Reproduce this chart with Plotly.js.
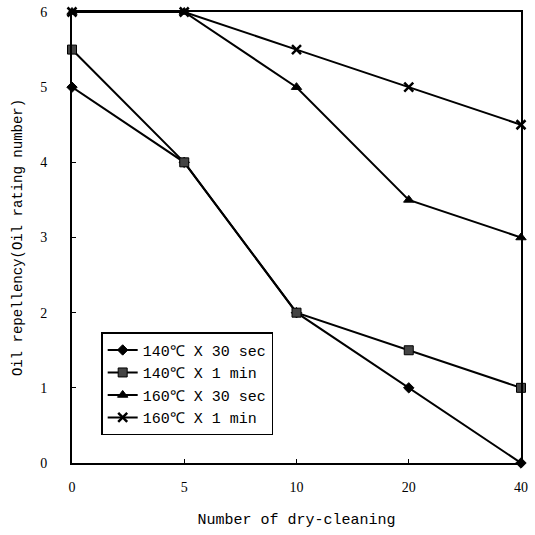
<!DOCTYPE html>
<html><head><meta charset="utf-8">
<script src="https://cdn.plot.ly/plotly-3.0.1.min.js"></script>
<style>body{margin:0;background:#fff}#c{width:535px;height:535px}</style>
</head><body><div id="c"></div>
<script>
const categories = ["0","5","10","20","40"];
const names = ["140℃ X 30 sec","140℃ X 1 min","160℃ X 30 sec","160℃ X 1 min"];
const s140_30 = [5, 4, 2, 1, 0];
const s140_60 = [5.5, 4, 2, 1.5, 1];
const s160_30 = [6, 6, 5, 3.5, 3];
const s160_60 = [6, 6, 5.5, 5, 4.5];
const yTicks = [0,1,2,3,4,5,6];

const series = [s140_30, s140_60, s160_30, s160_60];
const symbols = ["diamond","square","triangle-up","x-thin-open"];
const sizes = [8,9,9,9];
const traces = series.map((s,i)=>({
  x: categories, y: s, name: names[i], type:"scatter", mode:"lines+markers",
  line:{color:"#000", width:2},
  marker:{symbol:symbols[i], size:sizes[i], color: i===1 ? "#444" : "#000",
    line:{color:"#000", width: i===3 ? 2.5 : 1}},
  cliponaxis:false
}));
const layout = {
  width:535, height:535,
  margin:{l:72, r:14, t:12, b:72},
  paper_bgcolor:"#fff", plot_bgcolor:"#fff",
  font:{family:"Liberation Serif", color:"#000", size:14},
  showlegend:true,
  legend:{x:0.065, y:0.29, xanchor:"left", yanchor:"top",
    bordercolor:"#000", borderwidth:1.5, bgcolor:"#fff",
    font:{family:"Liberation Mono", size:15}, tracegroupgap:0, itemwidth:30},
  xaxis:{type:"category", range:[0,4], showline:true, linecolor:"#000", linewidth:2, mirror:true,
    ticks:"inside", ticklen:4, tickcolor:"#000", showgrid:false, zeroline:false,
    ticklabelstandoff:10,
    tickfont:{family:"Liberation Serif", size:14},
    title:{text:"Number of dry-cleaning", font:{family:"Liberation Mono", size:15}, standoff:20}},
  yaxis:{range:[0,6], tickvals:yTicks, showline:true, linecolor:"#000", linewidth:2, mirror:true,
    ticks:"inside", ticklen:4, tickcolor:"#000", showgrid:false, zeroline:false,
    ticklabelstandoff:20,
    tickfont:{family:"Liberation Serif", size:14},
    title:{text:"Oil repellency(Oil rating number)", font:{family:"Liberation Mono", size:14}, standoff:14}}
};
Plotly.newPlot("c", traces, layout, {displayModeBar:false, staticPlot:true});
</script></body></html>
